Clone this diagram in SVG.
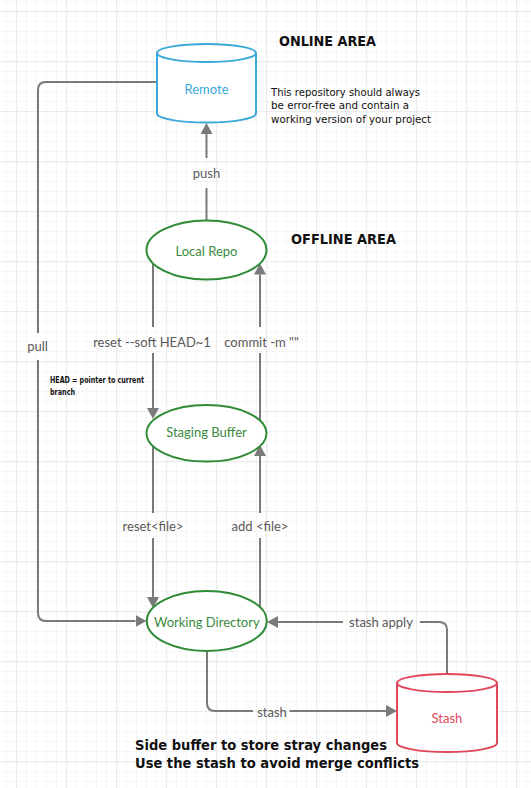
<svg xmlns="http://www.w3.org/2000/svg" width="531" height="788" viewBox="0 0 531 788">
<style>
.edge{fill:none;stroke:#7a7a7a;stroke-width:2}
.lbl{font-family:Lato,"Open Sans",sans-serif;font-size:13px;fill:#595959;text-anchor:middle}
.ntxt{font-family:Lato,"Open Sans",sans-serif;font-size:13px;text-anchor:middle}
.green{fill:#fff;stroke:#2e8b36;stroke-width:2}
.gtxt{fill:#3a8a3e}
.note{font-family:"DejaVu Sans",Verdana,sans-serif;fill:#111}
</style>
<defs>
<pattern id="grid" x="16" y="11" width="50" height="50" patternUnits="userSpaceOnUse">
<path d="M10.5,0V50M20.5,0V50M30.5,0V50M40.5,0V50M0,10.5H50M0,20.5H50M0,30.5H50M0,40.5H50" stroke="#f5f5f5" stroke-width="1" fill="none"/>
<path d="M0.5,0V50M0,0.5H50" stroke="#ebebeb" stroke-width="1.5" fill="none"/>
</pattern>
<marker id="arr" viewBox="0 0 11 12" refX="0" refY="6" markerWidth="11" markerHeight="12" markerUnits="userSpaceOnUse" orient="auto">
<path d="M0,0L11,6L0,12z" fill="#7a7a7a"/>
</marker>
</defs>
<rect width="531" height="788" fill="#fff"/>
<rect width="531" height="788" fill="url(#grid)"/>

<g id="connectors">
<path class="edge" d="M206.5,220V188M206.5,158V134" marker-end="url(#arr)"/>
<path class="edge" d="M157,82H46Q38,82 38,90V333M38,360V613Q38,621 46,621H135.5" marker-end="url(#arr)"/>
<path class="edge" d="M153,264V327M153,353V408" marker-end="url(#arr)"/>
<path class="edge" d="M260,421V353M260,327V274.5" marker-end="url(#arr)"/>
<path class="edge" d="M153,446V513M153,538V597" marker-end="url(#arr)"/>
<path class="edge" d="M260,607V538M260,513V456" marker-end="url(#arr)"/>
<path class="edge" d="M447,674V630Q447,622 439,622H420M343,622H278" marker-end="url(#arr)"/>
<path class="edge" d="M207,651V703Q207,711 215,711H253M289.5,711H386" marker-end="url(#arr)"/>
<text class="lbl" x="206.5" y="178">push</text>
<text class="lbl" x="37.5" y="351">pull</text>
<text class="lbl" x="152" y="346.5">reset --soft HEAD~1</text>
<text class="lbl" x="261.5" y="346.5">commit -m ""</text>
<text class="lbl" x="153" y="531">reset&lt;file&gt;</text>
<text class="lbl" x="260" y="531">add &lt;file&gt;</text>
<text class="lbl" x="381" y="627">stash apply</text>
<text class="lbl" x="272" y="716.5">stash</text>
</g>

<g id="remote">
<path d="M157,53V113.5A49.5,9 0 0 0 256,113.5V53" fill="#fff" stroke="#3aa9d9" stroke-width="2"/>
<ellipse cx="206.5" cy="53" rx="49.5" ry="9" fill="#fff" stroke="#3aa9d9" stroke-width="2"/>
<text class="ntxt" x="206.5" y="93.5" fill="#3aa9d9">Remote</text>
</g>

<g id="local-repo">
<ellipse class="green" cx="206.5" cy="250" rx="60" ry="29.5"/>
<text class="ntxt gtxt" x="206.5" y="256">Local Repo</text>
</g>

<g id="staging-buffer">
<ellipse class="green" cx="206.5" cy="433.3" rx="60" ry="28.3"/>
<text class="ntxt gtxt" x="206.5" y="437">Staging Buffer</text>
</g>

<g id="working-directory">
<ellipse class="green" cx="206.8" cy="621" rx="60" ry="30"/>
<text class="ntxt gtxt" x="206.8" y="627">Working Directory</text>
</g>

<g id="stash">
<path d="M397,683V743A50,9 0 0 0 497,743V683" fill="#fff" stroke="#e0475a" stroke-width="2"/>
<ellipse cx="447" cy="683" rx="50" ry="9" fill="#fff" stroke="#e0475a" stroke-width="2"/>
<text class="ntxt" x="447" y="722.5" fill="#e0475a">Stash</text>
</g>

<g id="notes">
<text class="note" x="279" y="46" font-size="14" font-weight="bold" textLength="97" lengthAdjust="spacingAndGlyphs">ONLINE AREA</text>
<text class="note" x="291" y="243.5" font-size="14" font-weight="bold" textLength="105" lengthAdjust="spacingAndGlyphs">OFFLINE AREA</text>
<text class="note" font-size="11">
<tspan x="271" y="95.5" textLength="149" lengthAdjust="spacingAndGlyphs">This repository should always</tspan>
<tspan x="271" y="109" textLength="138" lengthAdjust="spacingAndGlyphs">be error-free and contain a</tspan>
<tspan x="271" y="122.5" textLength="160" lengthAdjust="spacingAndGlyphs">working version of your project</tspan>
</text>
<text class="note" font-size="9" font-weight="bold">
<tspan x="50" y="383" textLength="94" lengthAdjust="spacingAndGlyphs">HEAD = pointer to current</tspan>
<tspan x="50" y="394.5" textLength="25" lengthAdjust="spacingAndGlyphs">branch</tspan>
</text>
<text class="note" font-size="14" font-weight="bold">
<tspan x="135" y="750" textLength="252" lengthAdjust="spacingAndGlyphs">Side buffer to store stray changes</tspan>
<tspan x="135" y="768" textLength="284" lengthAdjust="spacingAndGlyphs">Use the stash to avoid merge conflicts</tspan>
</text>
</g>
</svg>
